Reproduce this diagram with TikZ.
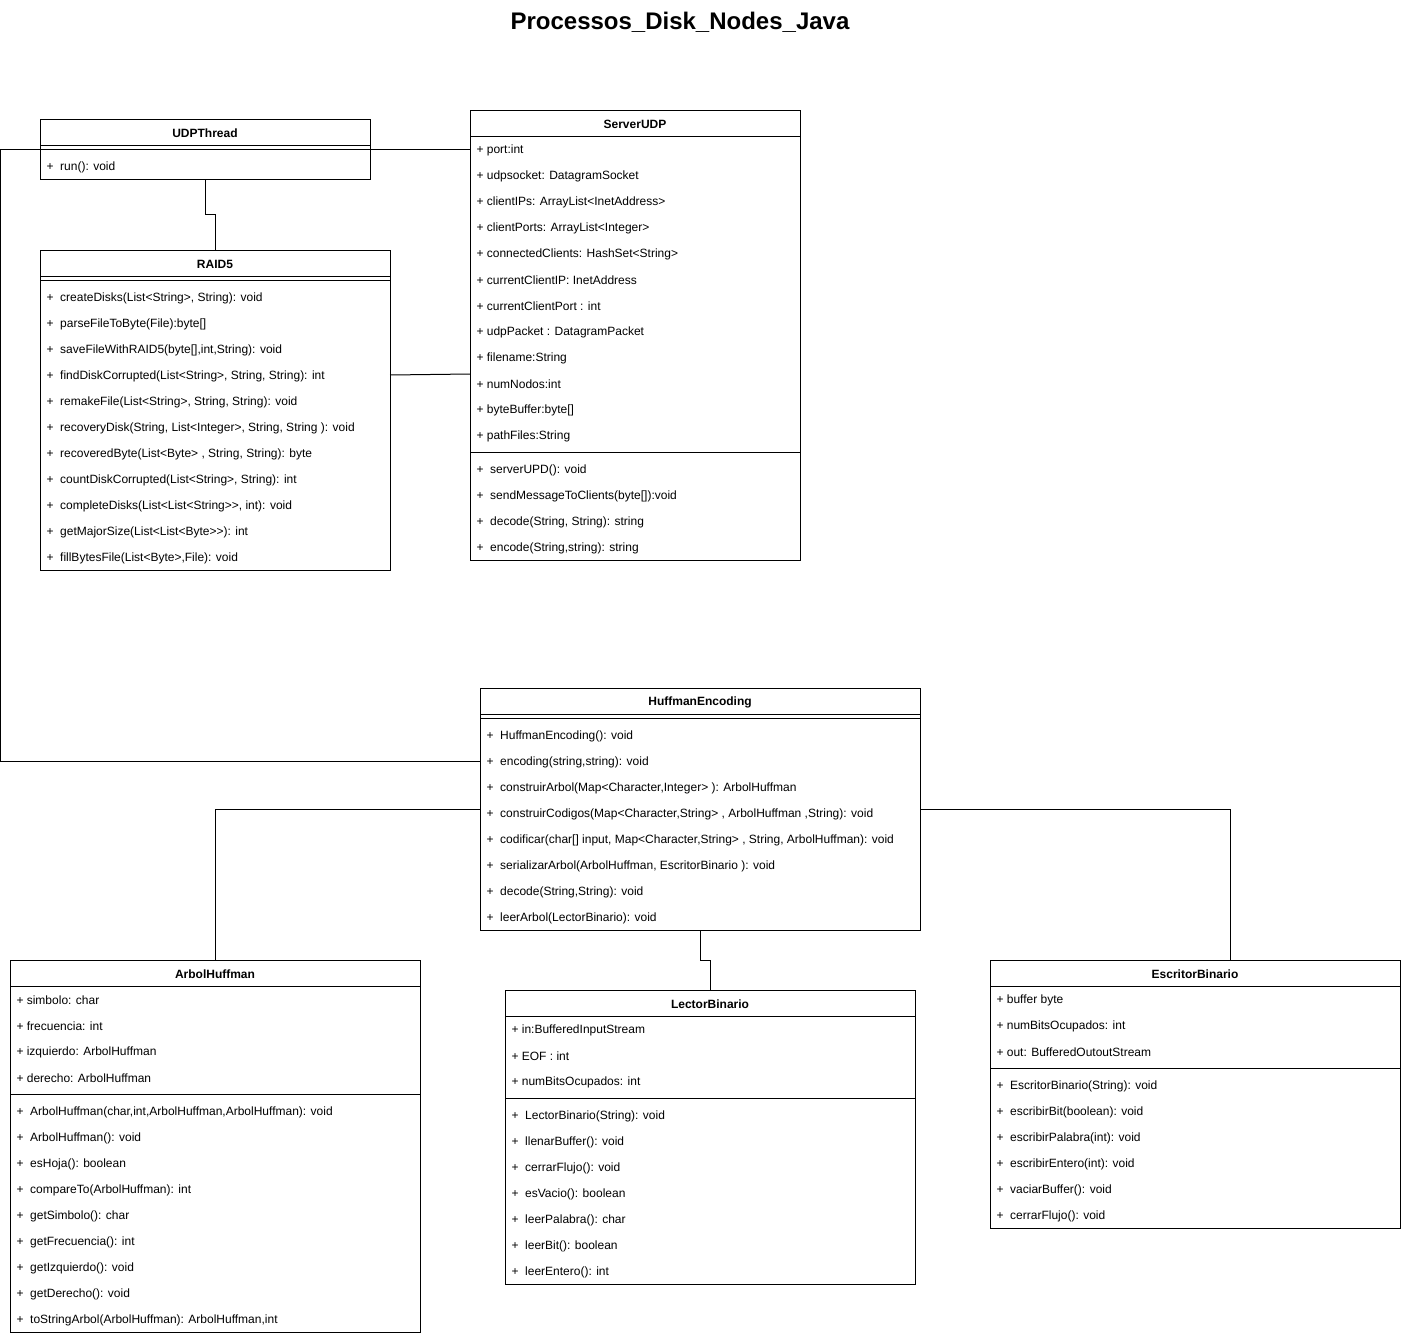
\documentclass[tikz,border=0pt]{standalone}
\usepackage{fontspec}
\setmainfont{Liberation Sans}
\begin{document}
\begin{tikzpicture}[x=1pt,y=-1pt,line width=1pt,
  cls/.style={draw,rectangle,inner sep=0pt,outer sep=0pt,anchor=north west},
  hdr/.style={font=\fontsize{12}{14}\selectfont\bfseries,inner sep=0pt,yshift=-1pt},
  row/.style={font=\fontsize{12}{14}\selectfont,anchor=west,inner sep=0pt,yshift=-1.5pt},
  conn/.style={draw,line width=1pt}]
\useasboundingbox (0,0) rectangle (1401,1336);

\node[font=\fontsize{24}{27}\selectfont\bfseries,inner sep=0pt] (title) at (680,22) {Processos\_Disk\_Nodes\_Java};

% UDPThread
\node[cls,minimum width=330pt,minimum height=60pt] (udp) at (40,119) {};
\node[hdr] (udpt) at (205,132) {UDPThread};
\draw (40,145) -- (370,145) (40,149) -- (370,149);
\node[row] (udpr) at (46,166) {+~~run(): void};

% ServerUDP
\node[cls,minimum width=330pt,minimum height=450pt] (srv) at (470,110) {};
\node[hdr] (srvt) at (635,123) {ServerUDP};
\draw (470,136) -- (800,136);
\foreach \t [count=\i from 0] in {{+ port:int},{+ udpsocket: DatagramSocket},{+ clientIPs: ArrayList<InetAddress>},{+ clientPorts: ArrayList<Integer>},{+ connectedClients: HashSet<String>},{+ currentClientIP: InetAddress},{+ currentClientPort : int},{+ udpPacket : DatagramPacket},{+ filename:String},{+ numNodos:int},{+ byteBuffer:byte[]},{+ pathFiles:String}}
  \node[row] at (476,149+26*\i) {\t};
\draw (470,452) -- (800,452);
\foreach \t [count=\i from 0] in {{+~~serverUPD(): void},{+~~sendMessageToClients(byte[]):void},{+~~decode(String, String): string},{+~~encode(String,string): string}}
  \node[row] at (476,469+26*\i) {\t};

% RAID5
\node[cls,minimum width=350pt,minimum height=320pt] (raid) at (40,250) {};
\node[hdr] (raidt) at (215,263) {RAID5};
\draw (40,276) -- (390,276) (40,280) -- (390,280);
\foreach \t [count=\i from 0] in {{+~~createDisks(List<String>, String): void},{+~~parseFileToByte(File):byte[]},{+~~saveFileWithRAID5(byte[],int,String): void},{+~~findDiskCorrupted(List<String>, String, String): int},{+~~remakeFile(List<String>, String, String): void},{+~~recoveryDisk(String, List<Integer>, String, String ): void},{+~~recoveredByte(List<Byte> , String, String): byte},{+~~countDiskCorrupted(List<String>, String): int},{+~~completeDisks(List<List<String>{}>, int): void},{+~~getMajorSize(List<List<Byte>{}>): int},{+~~fillBytesFile(List<Byte>,File): void}}
  \node[row] at (46,297+26*\i) {\t};

% HuffmanEncoding
\node[cls,minimum width=440pt,minimum height=242pt] (huff) at (480,688) {};
\node[hdr] (hufft) at (700,701) {HuffmanEncoding};
\draw (480,714) -- (920,714) (480,718) -- (920,718);
\foreach \t [count=\i from 0] in {{+~~HuffmanEncoding(): void},{+~~encoding(string,string): void},{+~~construirArbol(Map<Character,Integer> ): ArbolHuffman},{+~~construirCodigos(Map<Character,String> , ArbolHuffman ,String): void},{+~~codificar(char[] input, Map<Character,String> , String, ArbolHuffman): void},{+~~serializarArbol(ArbolHuffman, EscritorBinario ): void},{+~~decode(String,String): void},{+~~leerArbol(LectorBinario): void}}
  \node[row] at (486,735+26*\i) {\t};

% ArbolHuffman
\node[cls,minimum width=410pt,minimum height=372pt] (arbol) at (10,960) {};
\node[hdr] (arbolt) at (215,973) {ArbolHuffman};
\draw (10,986) -- (420,986);
\foreach \t [count=\i from 0] in {{+ simbolo: char},{+ frecuencia: int},{+ izquierdo: ArbolHuffman},{+ derecho: ArbolHuffman}}
  \node[row] at (16,999+26*\i) {\t};
\draw (10,1094) -- (420,1094);
\foreach \t [count=\i from 0] in {{+~~ArbolHuffman(char,int,ArbolHuffman,ArbolHuffman): void},{+~~ArbolHuffman(): void},{+~~esHoja(): boolean},{+~~compareTo(ArbolHuffman): int},{+~~getSimbolo(): char},{+~~getFrecuencia(): int},{+~~getIzquierdo(): void},{+~~getDerecho(): void},{+~~toStringArbol(ArbolHuffman): ArbolHuffman,int}}
  \node[row] at (16,1111+26*\i) {\t};

% LectorBinario
\node[cls,minimum width=410pt,minimum height=294pt] (lector) at (505,990) {};
\node[hdr] (lectort) at (710,1003) {LectorBinario};
\draw (505,1016) -- (915,1016);
\foreach \t [count=\i from 0] in {{+ in:BufferedInputStream},{+ EOF : int},{+ numBitsOcupados: int}}
  \node[row] at (511,1029+26*\i) {\t};
\draw (505,1098) -- (915,1098);
\foreach \t [count=\i from 0] in {{+~~LectorBinario(String): void},{+~~llenarBuffer(): void},{+~~cerrarFlujo(): void},{+~~esVacio(): boolean},{+~~leerPalabra(): char},{+~~leerBit(): boolean},{+~~leerEntero(): int}}
  \node[row] at (511,1115+26*\i) {\t};

% EscritorBinario
\node[cls,minimum width=410pt,minimum height=268pt] (escritor) at (990,960) {};
\node[hdr] (escritort) at (1195,973) {EscritorBinario};
\draw (990,986) -- (1400,986);
\foreach \t [count=\i from 0] in {{+ buffer byte},{+ numBitsOcupados: int},{+ out: BufferedOutoutStream}}
  \node[row] at (996,999+26*\i) {\t};
\draw (990,1068) -- (1400,1068);
\foreach \t [count=\i from 0] in {{+~~EscritorBinario(String): void},{+~~escribirBit(boolean): void},{+~~escribirPalabra(int): void},{+~~escribirEntero(int): void},{+~~vaciarBuffer(): void},{+~~cerrarFlujo(): void}}
  \node[row] at (996,1085+26*\i) {\t};

% connectors
\coordinate (leftA) at (0.5,149);
\coordinate (leftB) at (0.5,761);
\draw[conn] (udp.south) -- ++(0,35) -| (raid.north);
\draw[conn] (raid.east |- 0,375) -- (srv.west |- 0,374);
\draw[conn] (srv.west |- 0,149) -- (leftA) -- (leftB) -- (huff.west |- 0,761);
\draw[conn] (huff.west |- 0,809) -| (arbol.north);
\draw[conn] (huff.east |- 0,809) -| (escritor.north -| 1230,0);
\draw[conn] (huff.south) -- ++(0,30) -| (lector.north);
\end{tikzpicture}
\end{document}
